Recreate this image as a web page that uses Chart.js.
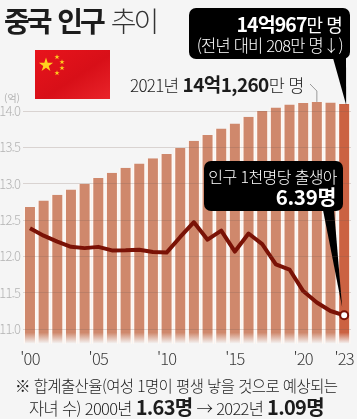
<!DOCTYPE html>
<html lang="ko">
<head>
<meta charset="utf-8">
<title>중국 인구 추이</title>
<script src="https://cdn.jsdelivr.net/npm/chart.js@4"></script>
<style>
  html, body { margin: 0; padding: 0; background: #f5f5f5; }
  body { position: relative; width: 357px; height: 419px; overflow: hidden;
    font-family: "Noto Sans CJK KR", sans-serif; color: #1c1c1c; }
  canvas { position: absolute; left: 0; top: 0; }
  .t { position: absolute; white-space: nowrap; line-height: 1; }
  b { font-weight: 700; }
  .box { position: absolute; background: #000; color: #fff; border-radius: 7px; }
  .box .t { right: 8px; }
</style>
</head>
<body>
<canvas id="chart" width="357" height="419"></canvas>

<div class="t" style="left:4px;top:6px;font-size:28px;letter-spacing:-3px;word-spacing:3px"><b>중국 인구</b> <span style="font-weight:300;color:#333">추이</span></div>

<svg style="position:absolute;left:35px;top:50px" width="75" height="49" viewBox="0 0 75 49">
  <defs>
    <linearGradient id="fl" x1="0" y1="0" x2="1" y2="1">
      <stop offset="0" stop-color="#e8141c"/><stop offset="0.55" stop-color="#d80f18"/><stop offset="1" stop-color="#e9242a"/>
    </linearGradient>
    <polygon id="s" points="0,-1 .225,-.309 .951,-.309 .363,.118 .588,.809 0,.382 -.588,.809 -.363,.118 -.951,-.309 -.225,-.309"/>
  </defs>
  <rect width="75" height="49" fill="url(#fl)"/>
  <g fill="#ffd21e">
    <use href="#s" transform="translate(11,15) scale(7.5)"/>
    <use href="#s" transform="translate(22,7) scale(2.800)"/>
    <use href="#s" transform="translate(27,12) scale(2.800)"/>
    <use href="#s" transform="translate(27,18) scale(2.800)"/>
    <use href="#s" transform="translate(22,23) scale(2.800)"/>
  </g>
</svg>

<div class="box" style="left:189px;top:8px;width:161px;height:51px">
  <div class="t" style="top:6px;font-size:19.500px;letter-spacing:-0.9px"><b>14억967</b><span style="font-weight:400;font-size:18px">만 명</span></div>
  <div class="t" style="top:29px;right:7px;font-size:16.500px;font-weight:300;letter-spacing:-0.8px">(전년 대비 208만 명↓)</div>
</div>

<div class="t" style="left:130px;top:74px;font-size:17px;letter-spacing:-0.7px;font-weight:300">2021년 <b style="font-size:19px;letter-spacing:-0.6px">14억1,260</b><span style="font-size:17.500px">만 명</span></div>

<div class="box" style="left:204px;top:161px;width:139px;height:50px">
  <div class="t" style="top:7px;right:6px;font-size:16px;font-weight:300;letter-spacing:-0.6px">인구 1천명당 출생아</div>
  <div class="t" style="top:25px;right:7px;font-size:20.500px;letter-spacing:-0.3px"><b>6.39명</b></div>
</div>

<div class="t" style="left:4px;top:93px;font-size:10px;color:#b4b4b4">(억)</div>

<div class="t" style="left:15px;top:378px;font-size:15.500px;font-weight:300;letter-spacing:-0.6px">※ 합계출산율(여성 1명이 평생 낳을 것으로 예상되는</div>
<div class="t" style="left:29px;top:397px;font-size:16.500px;font-weight:300;letter-spacing:-0.7px">자녀 수) 2000년 <b style="font-size:20px">1.63명</b> → 2022년 <b style="font-size:20px">1.09명</b></div>

<script>
const years = ["'00","'01","'02","'03","'04","'05","'06","'07","'08","'09","'10","'11",
  "'12","'13","'14","'15","'16","'17","'18","'19","'20","'21","'22","'23"];
const shownYears = ["'00","'05","'10","'15","'20","'23"];
const yTicks = [11.0, 11.5, 12.0, 12.5, 13.0, 13.5, 14.0];

// 인구 (억 명)
const population = [12.68, 12.77, 12.85, 12.92, 13.00, 13.08, 13.15, 13.22, 13.28, 13.35, 13.41, 13.49,
  13.59, 13.67, 13.76, 13.83, 13.92, 14.00, 14.05, 14.09, 14.11, 14.126, 14.118, 14.097];

// 인구 1천명당 출생아 (명)
const birthRate = [14.03, 13.38, 12.86, 12.41, 12.29, 12.40, 12.09, 12.10, 12.14, 11.95, 11.90, 13.27,
  14.57, 13.03, 13.83, 11.99, 13.57, 12.64, 10.86, 10.41, 8.52, 7.52, 6.77, 6.39];

const pageColor = "#f5f5f5";
const lastIndex = years.length - 1;

function barFill(context) {
  const area = context.chart.chartArea;
  if (!area) return "#cf886c";
  const g = context.chart.ctx.createLinearGradient(0, area.top, 0, area.bottom);
  const color = context.dataIndex === lastIndex ? "#cb6242" : "#cf886c";
  g.addColorStop(0, color);
  g.addColorStop(0.955, color);
  g.addColorStop(1, pageColor);
  return g;
}

function drawTail(ctx, x1, x2, baseY, tipX, tipY) {
  ctx.beginPath();
  ctx.moveTo(x1, baseY);
  ctx.lineTo(x2, baseY);
  ctx.lineTo(tipX, tipY);
  ctx.closePath();
  ctx.fill();
}

// 말풍선 꼬리와 2021년 지시선
const callouts = {
  id: "callouts",
  beforeDraw(chart) {
    chart.ctx.letterSpacing = "-0.8px"; // 축 글자 좁게
  },
  afterDatasetsDraw(chart) {
    const { ctx, scales } = chart;
    const lastX = scales.x.getPixelForValue(lastIndex);
    ctx.save();
    ctx.fillStyle = "#000";
    drawTail(ctx, 333, 346, 58, lastX + 2, scales.y.getPixelForValue(population[lastIndex]) + 1);
    drawTail(ctx, 323, 334, 210, lastX - 2, scales.y1.getPixelForValue(birthRate[lastIndex]) - 8);

    const x21 = scales.x.getPixelForValue(21);
    ctx.strokeStyle = "#9a9a9a";
    ctx.lineWidth = 1;
    ctx.beginPath();
    ctx.moveTo(310, 84);
    ctx.lineTo(x21, 91);
    ctx.lineTo(x21, scales.y.getPixelForValue(population[21]));
    ctx.stroke();
    ctx.restore();
  }
};

new Chart(document.getElementById("chart"), {
  data: {
    labels: years,
    datasets: [
      {
        type: "line",
        data: birthRate,
        yAxisID: "y1",
        order: 1,
        borderColor: "#7a1206",
        borderWidth: 4,
        borderJoinStyle: "round",
        tension: 0,
        pointRadius: (c) => (c.dataIndex === lastIndex ? 4 : 0),
        pointBackgroundColor: "#fff",
        pointBorderColor: "#7a1206",
        pointBorderWidth: 2,
      },
      {
        type: "bar",
        data: population,
        yAxisID: "y",
        order: 2,
        backgroundColor: barFill,
        borderColor: "#fff8f3",
        borderWidth: { left: 1.5, right: 1.5, top: 0, bottom: 0 },
        barPercentage: 0.95,
        categoryPercentage: 1,
      },
    ],
  },
  options: {
    responsive: false,
    animation: false,
    layout: { padding: { top: 96.5, right: 5, bottom: 50.3, left: 0 } },
    plugins: { legend: { display: false }, tooltip: { enabled: false } },
    scales: {
      x: {
        grid: { display: false },
        border: { display: false },
        afterFit: (axis) => { axis.height = 25; },
        ticks: {
          autoSkip: false,
          maxRotation: 0,
          padding: -3,
          color: "#3a3a3a",
          font: { family: "'Noto Sans CJK KR'", size: 16.5, weight: 300 },
          callback: function (value) {
            const label = this.getLabelForValue(value);
            return shownYears.includes(label) ? label : "";
          },
        },
      },
      y: {
        min: 10.8,
        max: 14.2,
        afterFit: (axis) => { axis.width = 23.15; },
        afterBuildTicks: (axis) => { axis.ticks = yTicks.map((value) => ({ value })); },
        grid: { color: "rgba(120,90,80,0.22)", lineWidth: 1, drawTicks: false, z: 1 },
        border: { display: false },
        ticks: {
          padding: 3,
          color: "#b4b4b4",
          font: { family: "'Noto Sans CJK KR'", size: 13, weight: 300 },
          callback: (value) => value.toFixed(1),
        },
      },
      y1: { display: false, min: 3.9, max: 25.6 },
    },
  },
  plugins: [callouts],
});
</script>
</body>
</html>
